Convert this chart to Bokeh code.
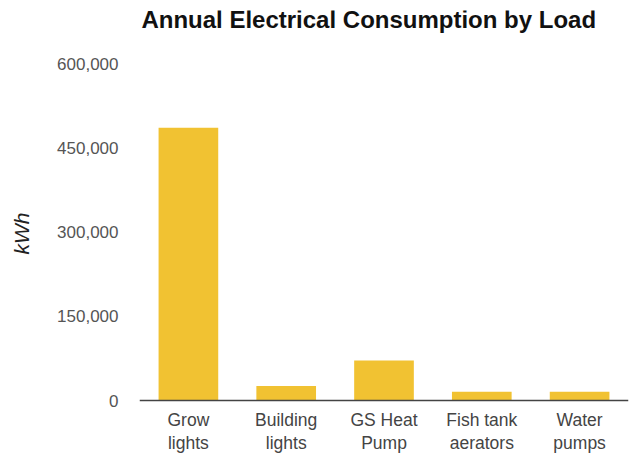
from bokeh.plotting import figure
from bokeh.models import FactorRange, Range1d, FixedTicker, NumeralTickFormatter, Span
from bokeh.core.properties import value
from bokeh.embed import file_html
from bokeh.resources import INLINE

categories = ["Grow lights", "Building lights", "GS Heat Pump", "Fish tank aerators", "Water pumps"]
label_line1 = ["Grow", "Building", "GS Heat", "Fish tank", "Water"]
label_line2 = ["lights", "lights", "Pump", "aerators", "pumps"]
values = [485500, 26000, 71000, 15500, 15500]
y_ticks = [0, 150000, 300000, 450000, 600000]
title_text = "Annual Electrical Consumption by Load"

FONT = "Liberation Sans"

# vertical pixel layout of the frame (frame spans canvas rows 10..456)
H = 456
TOP = 10
ZERO_PX = 400        # canvas row of value 0
MAX_PX = 63          # canvas row of the top tick
per_px = (y_ticks[-1] - y_ticks[0]) / (ZERO_PX - MAX_PX)
y_start = -(H - ZERO_PX) * per_px
y_end = (ZERO_PX - TOP) * per_px

p = figure(
    width=629, height=H,
    x_range=FactorRange(*categories),
    y_range=Range1d(y_start, y_end),
    output_backend="svg", toolbar_location=None,
    x_axis_location=None,
    min_border_left=139, min_border_right=1, min_border_top=TOP, min_border_bottom=0,
)
p.outline_line_color = None
p.background_fill_color = "white"
p.border_fill_color = "white"
p.grid.visible = False

p.vbar(x=categories, top=values, width=0.61, color="#F1C232", line_color=None)

# baseline (x axis line)
p.add_layout(Span(location=0, dimension="width", line_color="#444444", line_width=1.5))

# two-line category labels
p.text(x=categories, y=[0] * len(categories), text=label_line1, y_offset=19,
       text_font=value(FONT), text_font_size="17.5px", text_color="#444444",
       text_align="center", text_baseline="alphabetic")
p.text(x=categories, y=[0] * len(categories), text=label_line2, y_offset=42,
       text_font=value(FONT), text_font_size="17.5px", text_color="#444444",
       text_align="center", text_baseline="alphabetic")

# title
p.text(x=[categories[0]], y=[y_end], text=[title_text], x_offset=-47, y_offset=9,
       text_font=value(FONT), text_font_size="24px", text_font_style="bold",
       text_color="#111111", text_align="left", text_baseline="alphabetic")

ya = p.yaxis[0]
ya.ticker = FixedTicker(ticks=y_ticks)
ya.formatter = NumeralTickFormatter(format="0,0")
ya.axis_line_color = None
ya.major_tick_line_color = None
ya.minor_tick_line_color = None
ya.major_label_text_font = FONT
ya.major_label_text_font_size = "17px"
ya.major_label_text_color = "#555555"
ya.major_label_standoff = 15
ya.axis_label = "kWh"
ya.axis_label_text_font = FONT
ya.axis_label_text_font_size = "21px"
ya.axis_label_text_font_style = "italic"
ya.axis_label_text_color = "#222222"
ya.axis_label_standoff = 21

open("out.html", "w").write(file_html(p, INLINE))
